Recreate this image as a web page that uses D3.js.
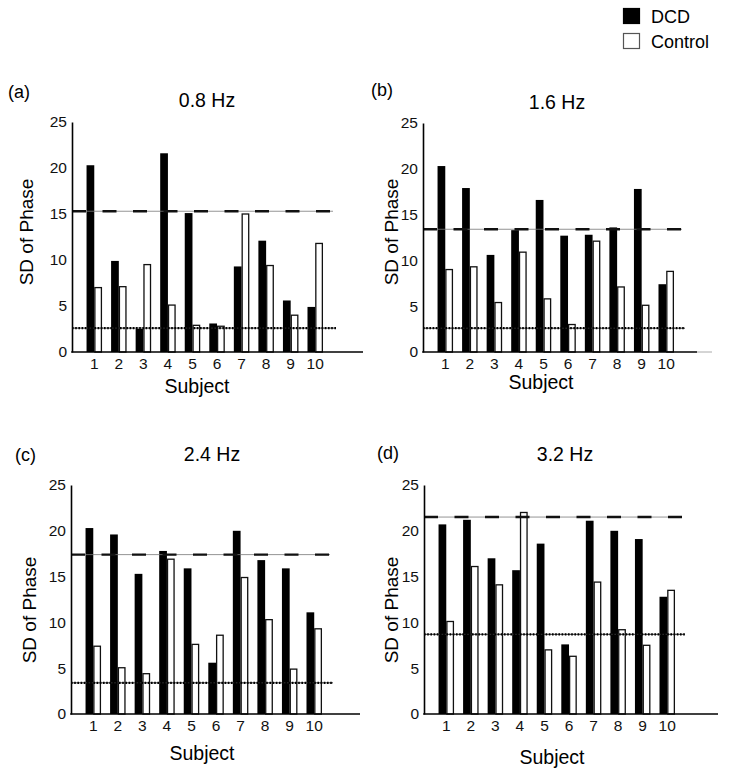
<!DOCTYPE html>
<html>
<head>
<meta charset="utf-8">
<script src="https://cdn.jsdelivr.net/npm/d3@7"></script>
<style>
  body { margin: 0; background: #fff; }
  svg { font-family: Arial, "Liberation Sans", Helvetica, sans-serif; }
</style>
</head>
<body>
<svg id="chart" width="730" height="776"></svg>
<script>
const subjects = [1, 2, 3, 4, 5, 6, 7, 8, 9, 10];
const panelLetters = ['(a)', '(b)', '(c)', '(d)'];
const frequencies = ['0.8 Hz', '1.6 Hz', '2.4 Hz', '3.2 Hz'];
const yTicks = [0, 5, 10, 15, 20, 25];
const seriesNames = ['DCD', 'Control'];

const dcd08 = [20.3, 9.9, 2.5, 21.6, 15.1, 3.1, 9.3, 12.1, 5.6, 4.9];
const control08 = [7.0, 7.1, 9.5, 5.1, 2.9, 2.8, 15.0, 9.4, 4.0, 11.8];
const dcd16 = [20.3, 17.9, 10.6, 13.3, 16.6, 12.7, 12.8, 13.6, 17.8, 7.4];
const control16 = [9.0, 9.3, 5.4, 10.9, 5.8, 3.0, 12.1, 7.1, 5.1, 8.8];
const dcd24 = [20.3, 19.6, 15.3, 17.8, 15.9, 5.6, 20.0, 16.8, 15.9, 11.1];
const control24 = [7.4, 5.05, 4.4, 16.9, 7.6, 8.6, 14.9, 10.3, 4.9, 9.3];
const dcd32 = [20.7, 21.2, 17.0, 15.7, 18.6, 7.6, 21.1, 20.0, 19.1, 12.8];
const control32 = [10.1, 16.1, 14.1, 22.0, 7.0, 6.3, 14.4, 9.2, 7.5, 13.5];

// dashed (upper) and dotted (lower) reference levels per panel
const upperRef = [15.3, 13.4, 17.4, 21.5];
const lowerRef = [2.6, 2.6, 3.4, 8.7];

const dcdSeries = [dcd08, dcd16, dcd24, dcd32];
const controlSeries = [control08, control16, control24, control32];

// panel geometry
const layout = [
  { ax: 72,  base: 352, top: 122, xEnd: 363, refEnd: 333, letter: [8, 98],   title: [207, 107], yLab: [33, 232],  xLab: [197, 393] },
  { ax: 423, base: 352, top: 123, xEnd: 697, refEnd: 682, letter: [371, 96], title: [557, 109], yLab: [398, 232], xLab: [541, 389], ext: 712 },
  { ax: 71,  base: 714, top: 485, xEnd: 360, refEnd: 330, letter: [15, 461], title: [212, 461], yLab: [36, 610],  xLab: [202, 760] },
  { ax: 424, base: 714, top: 485, xEnd: 718, refEnd: 682, letter: [377, 459], title: [565, 461], yLab: [398, 610], xLab: [552, 764] }
];

const svg = d3.select('#chart');

layout.forEach((L, p) => {
  const g = svg.append('g').attr('class', 'panel');

  const y = d3.scaleLinear().domain([0, 25]).range([L.base, L.top]);
  const x = d3.scaleBand()
    .domain(subjects)
    .range([L.ax + 10, L.ax + 10 + 245.5])
    .paddingInner(0.37)
    .paddingOuter(0.185);
  const xs = d3.scaleBand().domain(seriesNames).range([0, x.bandwidth()]);

  const rows = subjects.map((s, i) => ({ s, DCD: dcdSeries[p][i], Control: controlSeries[p][i] }));

  // bars
  const groups = g.selectAll('.subject')
    .data(rows)
    .enter()
    .append('g')
    .classed('subject', true)
    .attr('transform', d => `translate(${x(d.s)},0)`);

  groups.selectAll('rect')
    .data(d => seriesNames.map(k => ({ k, v: d[k] })))
    .enter()
    .append('rect')
    .attr('x', d => xs(d.k) + (d.k === 'Control' ? 0.6 : 0))
    .attr('width', d => xs.bandwidth() - (d.k === 'Control' ? 1.2 : 0))
    .attr('y', d => y(d.v))
    .attr('height', d => L.base - y(d.v))
    .attr('fill', d => d.k === 'DCD' ? '#000' : '#fff')
    .attr('stroke', d => d.k === 'DCD' ? 'none' : '#111')
    .attr('stroke-width', 1.3);

  // reference lines
  const up = y(upperRef[p]);
  g.append('line').attr('x1', L.ax).attr('x2', L.refEnd).attr('y1', up).attr('y2', up)
    .attr('stroke', '#777').attr('stroke-width', 0.8);
  g.append('line').attr('x1', L.ax).attr('x2', L.refEnd).attr('y1', up).attr('y2', up)
    .attr('stroke', '#111').attr('stroke-width', 2.4).attr('stroke-dasharray', '14,16.5');

  const lo = y(lowerRef[p]);
  g.append('line').attr('x1', L.ax).attr('x2', L.refEnd + 3).attr('y1', lo).attr('y2', lo)
    .attr('stroke', '#333').attr('stroke-width', 1);
  g.append('line').attr('x1', L.ax).attr('x2', L.refEnd + 3).attr('y1', lo).attr('y2', lo)
    .attr('stroke', '#000').attr('stroke-width', 2.2).attr('stroke-dasharray', '1.6,1.6');

  // y axis
  const yAxis = g.append('g')
    .attr('transform', `translate(${L.ax},0)`)
    .call(d3.axisLeft(y).tickValues(yTicks).tickSize(0).tickSizeOuter(0).tickPadding(5));
  yAxis.select('.domain').attr('stroke', '#000').attr('stroke-width', 1.6);
  yAxis.selectAll('text').attr('font-size', 15.5).attr('fill', '#111')
    .attr('font-family', 'Arial, "Liberation Sans", sans-serif');

  // x axis
  const xAxis = g.append('g')
    .attr('transform', `translate(0,${L.base})`)
    .call(d3.axisBottom(x).tickSize(0).tickPadding(6));
  xAxis.select('.domain').remove();
  xAxis.selectAll('text').attr('font-size', 15.5).attr('fill', '#111')
    .attr('font-family', 'Arial, "Liberation Sans", sans-serif');
  g.append('line').attr('x1', L.ax - 0.8).attr('x2', L.xEnd).attr('y1', L.base).attr('y2', L.base)
    .attr('stroke', '#000').attr('stroke-width', 1.6);
  if (L.ext) {
    g.append('line').attr('x1', L.xEnd).attr('x2', L.ext).attr('y1', L.base).attr('y2', L.base)
      .attr('stroke', '#aaa').attr('stroke-width', 1);
  }

  // texts
  g.append('text').attr('x', L.letter[0]).attr('y', L.letter[1])
    .attr('font-size', 18).text(panelLetters[p]);
  g.append('text').attr('x', L.title[0]).attr('y', L.title[1])
    .attr('text-anchor', 'middle').attr('font-size', 19.5).text(frequencies[p]);
  g.append('text')
    .attr('transform', `translate(${L.yLab[0]},${L.yLab[1]}) rotate(-90)`)
    .attr('text-anchor', 'middle').attr('font-size', 19).text('SD of Phase');
  g.append('text').attr('x', L.xLab[0]).attr('y', L.xLab[1])
    .attr('text-anchor', 'middle').attr('font-size', 19.5).text('Subject');
});

// legend
const legend = svg.append('g').attr('class', 'legend');
const legendItems = legend.selectAll('g')
  .data(seriesNames)
  .enter()
  .append('g')
  .attr('transform', (d, i) => `translate(623,${8 + i * 25})`);
legendItems.append('rect')
  .attr('x', 0.5).attr('y', 0.5).attr('width', 16).attr('height', 15)
  .attr('fill', d => d === 'DCD' ? '#000' : '#fff')
  .attr('stroke', d => d === 'DCD' ? '#000' : '#555')
  .attr('stroke-width', 1.2);
legendItems.append('text')
  .attr('x', 28).attr('y', 14.5)
  .attr('font-size', 18)
  .text(d => d);
</script>
</body>
</html>
